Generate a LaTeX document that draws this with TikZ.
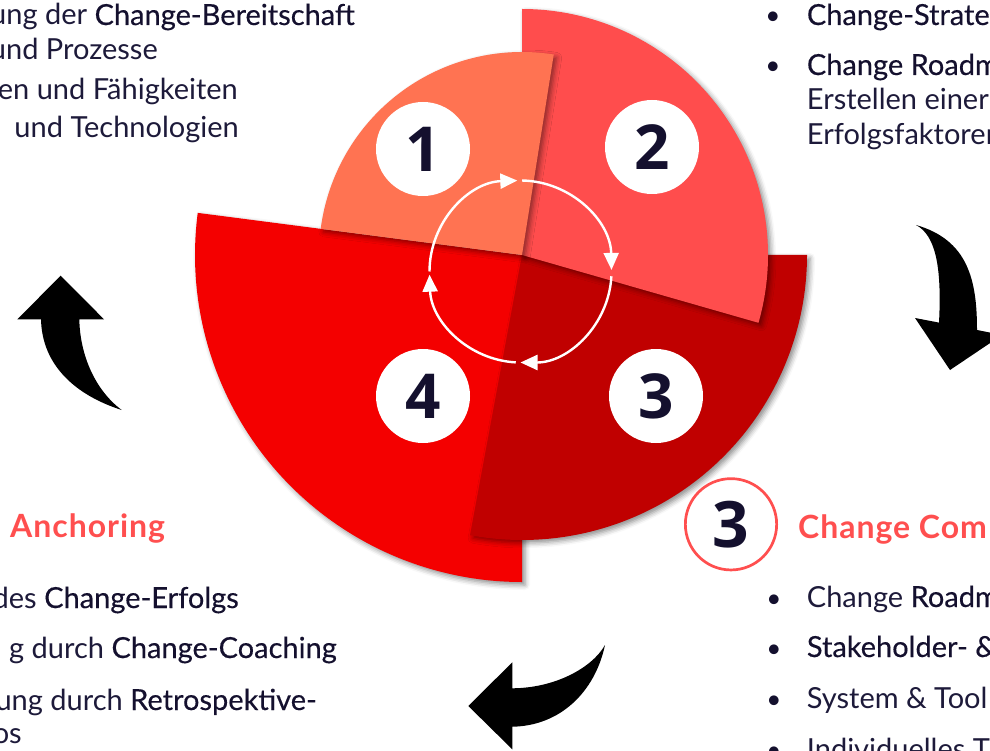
\documentclass[tikz,border=0pt]{standalone}
\usepackage{fontspec}
\setmainfont{Lato}
\newfontfamily\dkfont{Lato}[FakeBold=0.35]
\newfontfamily\digfont{Open Sans}
\newfontfamily\headfont{Lato}[LetterSpace=3]
\usetikzlibrary{arrows.meta,shadows.blur}
\definecolor{segA}{HTML}{FF7352}
\definecolor{segB}{HTML}{FF4D4D}
\definecolor{segC}{HTML}{C00000}
\definecolor{segD}{HTML}{F40000}
\definecolor{ink}{HTML}{1D1A3A}
\definecolor{inkdk}{HTML}{14102E}
\definecolor{headc}{HTML}{FF4F4F}
\newcommand\txtl[1]{{\color{ink}#1}}
\newcommand\txtd[1]{{\dkfont\color{inkdk}#1}}
\begin{document}
\begin{tikzpicture}[x=1pt,y=1pt,
  seg/.style={blur shadow={shadow xshift=3pt,shadow yshift=-3pt,shadow blur radius=5pt,shadow opacity=45}},
  body/.style={inner sep=0pt,font=\fontsize{29}{35}\selectfont,text=ink},
  headline/.style={inner sep=0pt,font=\headfont\bfseries\fontsize{32}{38}\selectfont,text=headc},
  numdisk/.style={circle,fill=white,minimum size=94pt,inner sep=0pt,font=\digfont\bfseries\fontsize{62}{62}\selectfont,text=inkdk},
  ringdisk/.style={circle,draw=headc,line width=2.7pt,minimum size=91.3pt,inner sep=0pt,font=\digfont\bfseries\fontsize{64}{64}\selectfont,text=inkdk},
  bul/.style={inner sep=0pt,font=\fontsize{26}{35}\selectfont,text=inkdk,anchor=base},
  bigarrow/.style={fill=black},
  cyc/.style={white,line width=2.4pt,-{Triangle[length=17pt,width=15pt]}}
]
\useasboundingbox (0,0) rectangle (990,-751);
\clip (0,0) rectangle (990,-751);

\coordinate (O) at (522,-255);
% pie segments (bottom to top)
\fill[segD,seg] (O) -- ++(172.6:327) arc[start angle=172.6,end angle=270,radius=327] -- cycle;
\fill[segC,seg] (O) -- ++(-100.5:285) arc[start angle=-100.5,end angle=0,radius=285] -- cycle;
\fill[segB,seg] (O) -- ++(-16:246) arc[start angle=-16,end angle=90,radius=246] -- cycle;
\fill[segA,seg] (O) -- ++(81:203) arc[start angle=81,end angle=172.6,radius=203] -- cycle;

% numbered disks
\node[numdisk] (n1) at (423,-149) {1};
\node[numdisk] (n2) at (652,-147) {2};
\node[numdisk] (n3) at (656,-396) {3};
\node[numdisk] (n4) at (423,-396) {4};

% cycle arrows
\coordinate (C) at (520.5,-271.5);
\draw[cyc] ([shift={(180:91)}]C) arc[start angle=180,end angle=92,radius=91];
\draw[cyc] ([shift={(89:91)}]C) arc[start angle=89,end angle=1,radius=91];
\draw[cyc] ([shift={(-3:91)}]C) arc[start angle=-3,end angle=-90,radius=91];
\draw[cyc] ([shift={(-93:91)}]C) arc[start angle=-93,end angle=-178,radius=91];

% big black curved arrows
\fill[bigarrow] (41,-319.3) -- (17.3,-319.3) -- (60.7,-275.7) -- (104,-319.3) -- (79.3,-319.3)
  .. controls (80,-355) and (95,-390) .. (121.7,-410)
  .. controls (75,-395) and (42,-365) .. (41,-319.3) -- cycle;
\fill[bigarrow] (939,-322.6) -- (915,-318) -- (950,-370) -- (1002,-335) -- (977,-330)
  .. controls (977,-280) and (968,-240) .. (916,-225)
  .. controls (935,-235) and (942,-265) .. (939,-322.6) -- cycle;
\fill[bigarrow] (512.3,-688.3) -- (512.3,-662.3) -- (468.3,-706) -- (512.3,-749.3) -- (512.3,-726.7)
  .. controls (560,-726) and (595,-692) .. (605,-645)
  .. controls (592,-668) and (555,-688) .. (512.3,-688.3) -- cycle;

% top-left text
\node[body,anchor=base east] (t1) at (355,-25) {\txtl{ung der }\txtd{Change-Bereitschaft}};
\node[body,anchor=base east] (t2) at (158,-60) {und Prozesse};
\node[body,anchor=base east] (t3) at (238,-100) {en und Fähigkeiten};
\node[body,anchor=base east] (t4) at (239,-138) {und Technologien};

% top-right text
\node[bul] (b1) at (773,-25) {•};
\node[bul] (b2) at (773,-75) {•};
\node[body,anchor=base west] (r1) at (806.7,-25) {\txtd{Change-Strate}};
\node[body,anchor=base west] (r2) at (806.7,-75) {\txtd{Change Roadm}};
\node[body,anchor=base west] (r3) at (806.7,-110) {Erstellen einer};
\node[body,anchor=base west] (r4) at (806.7,-145) {Erfolgsfaktoren};

% bottom-left text
\node[headline,anchor=base west] (hA) at (10,-537) {Anchoring};
\node[body,anchor=base east] (l1) at (239,-608) {\txtl{des }\txtd{Change-Erfolgs}};
\node[body,anchor=base east] (l2) at (337,-658) {\txtl{g durch }\txtd{Change-Coaching}};
\node[body,anchor=base east] (l3) at (317,-710) {\txtl{ung durch }\txtd{Retrospektive-}};
\node[body,anchor=base east] (l4) at (22,-743) {os};

% bottom-right text
\node[ringdisk] (o3) at (731,-524.3) {3};
\node[headline,anchor=base west] (hC) at (798,-538) {Change Com};
\node[bul] (b3) at (774,-607) {•};
\node[bul] (b4) at (774,-657) {•};
\node[bul] (b5) at (774,-708) {•};
\node[bul] (b6) at (774,-759) {•};
\node[body,anchor=base west] (s1) at (806.7,-607) {\txtl{Change }\txtd{Roadm}};
\node[body,anchor=base west] (s2) at (806.7,-657) {\txtd{Stakeholder- \&}};
\node[body,anchor=base west] (s3) at (806.7,-708) {System \& Tool};
\node[body,anchor=base west] (s4) at (806.7,-759) {Individuelles T};
\end{tikzpicture}
\end{document}
